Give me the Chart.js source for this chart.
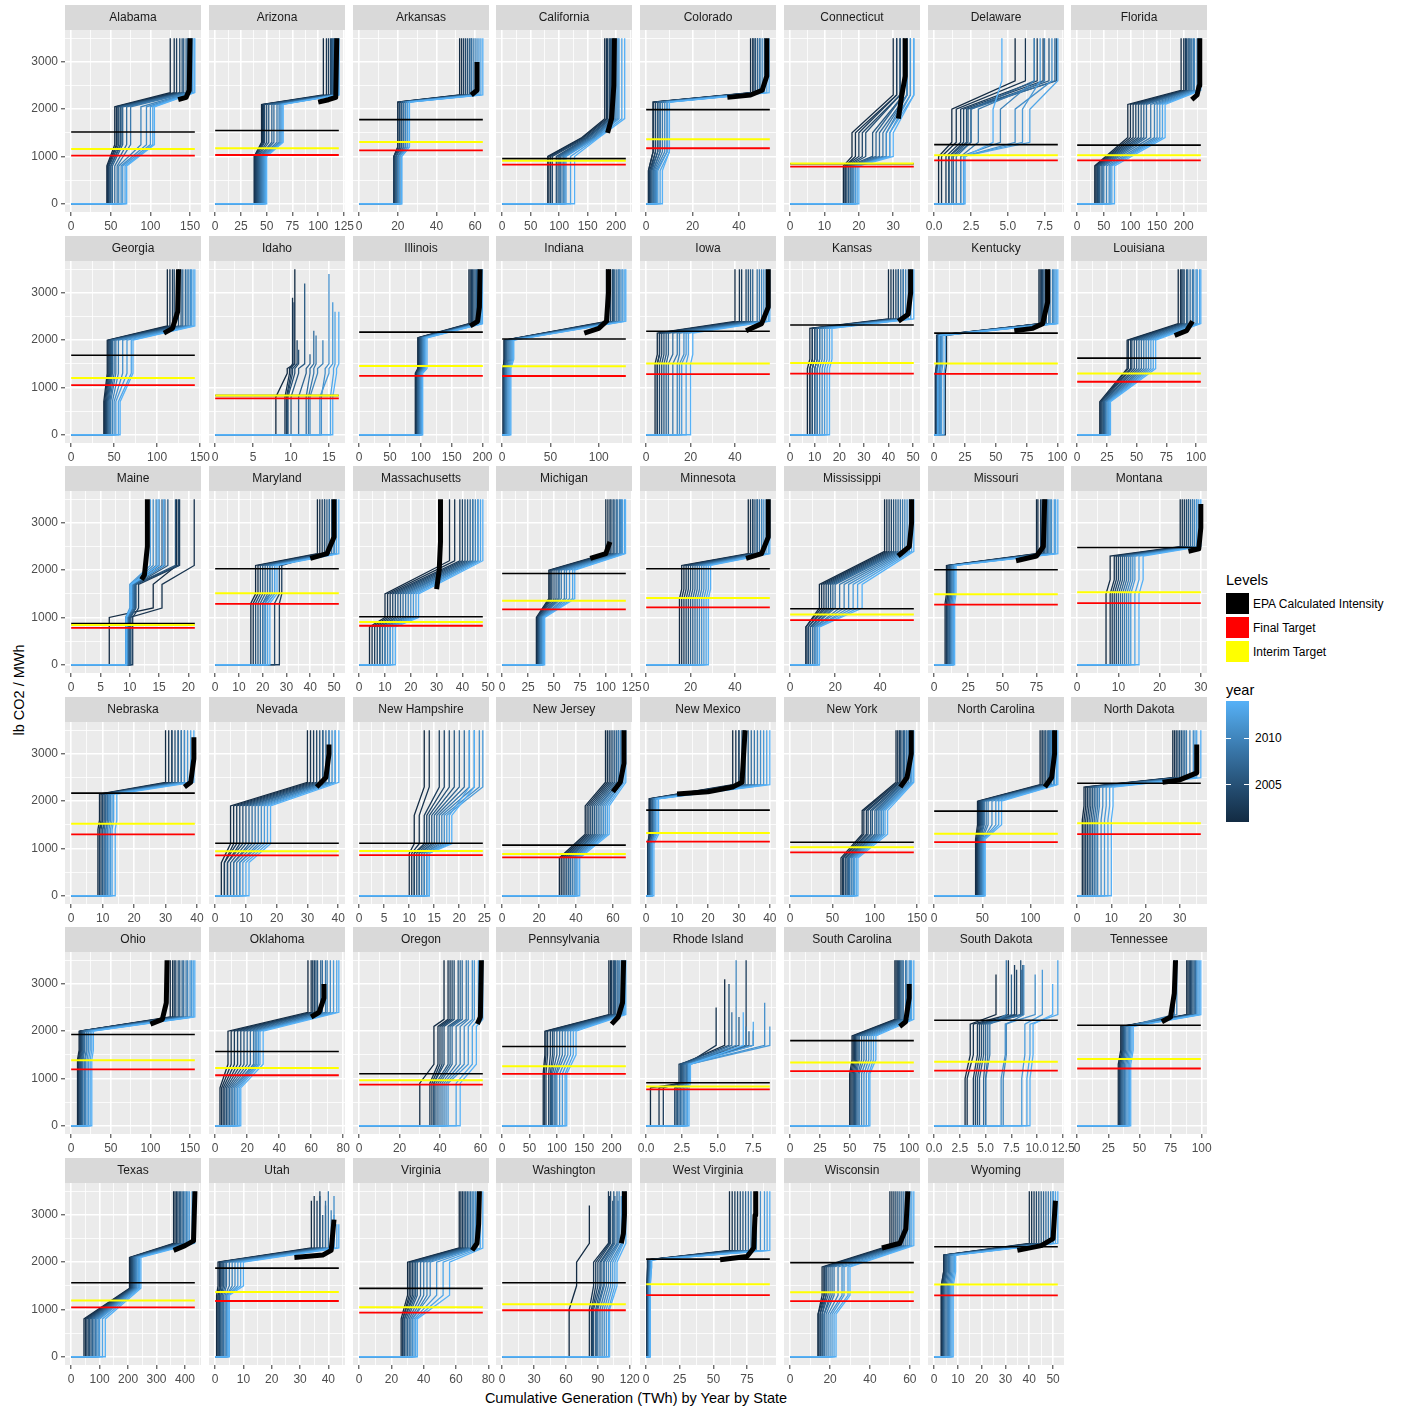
<!DOCTYPE html>
<html>
<head>
<meta charset="utf-8">
<script src="https://cdn.jsdelivr.net/npm/chart.js@4.4.1/dist/chart.umd.min.js"></script>
<style>
  html, body { margin: 0; padding: 0; background: #ffffff; }
  body { width: 1405px; height: 1408px; position: relative; overflow: hidden;
         font-family: "Liberation Sans", Arial, sans-serif; }
  canvas { position: absolute; }
  .txt { position: absolute; white-space: nowrap; color: #000; line-height: 1; }
  .key { position: absolute; width: 23px; height: 21px; }
  .tick { position: absolute; height: 1px; width: 5px; background: #ffffff; }
</style>
</head>
<body>
<div class="txt" id="ytitle" style="left:19px; top:690px; font-size:14.5px; transform:translate(-50%,-50%) rotate(-90deg);">lb CO2 / MWh</div>
<div class="txt" id="xtitle" style="left:636px; top:1398px; font-size:14.5px; transform:translate(-50%,-50%);">Cumulative Generation (TWh) by Year by State</div>

<div class="txt" style="left:1226px; top:580px; font-size:14.5px; transform:translateY(-50%);">Levels</div>
<div class="key" style="left:1226px; top:593px; background:#000000;"></div>
<div class="key" style="left:1226px; top:617px; background:#FF0000;"></div>
<div class="key" style="left:1226px; top:641px; background:#FFFF00;"></div>
<div class="txt" style="left:1253px; top:604px; font-size:12px; transform:translateY(-50%);">EPA Calculated Intensity</div>
<div class="txt" style="left:1253px; top:628px; font-size:12px; transform:translateY(-50%);">Final Target</div>
<div class="txt" style="left:1253px; top:652px; font-size:12px; transform:translateY(-50%);">Interim Target</div>

<div class="txt" style="left:1226px; top:690px; font-size:14.5px; transform:translateY(-50%);">year</div>
<div id="cbar" style="position:absolute; left:1226px; top:701px; width:23px; height:121px;"></div>
<div id="cbarLabels"></div>

<script>
// ---------------------------------------------------------------------------
// Data: power-sector CO2 intensity curves by state.
// Each curve runs from 0 generation at 0 lb/MWh, jumps at the zero-carbon
// share, crosses the gas block, steps up to coal and ends with peakers.
// ---------------------------------------------------------------------------
const STATES = ["Alabama","Arizona","Arkansas","California","Colorado","Connecticut","Delaware","Florida",
  "Georgia","Idaho","Illinois","Indiana","Iowa","Kansas","Kentucky","Louisiana",
  "Maine","Maryland","Massachusetts","Michigan","Minnesota","Mississippi","Missouri","Montana",
  "Nebraska","Nevada","New Hampshire","New Jersey","New Mexico","New York","North Carolina","North Dakota",
  "Ohio","Oklahoma","Oregon","Pennsylvania","Rhode Island","South Carolina","South Dakota","Tennessee",
  "Texas","Utah","Virginia","Washington","West Virginia","Wisconsin","Wyoming"];

const YEARS = [2001,2002,2003,2004,2005,2006,2007,2008,2009,2010,2011,2012,2013,2014];

// Largest cumulative generation (TWh) per state
const X_MAX = [156,120,64,217,53.3,36,8.4,232,
  144,16.3,200.5,128,55.7,50.3,100.3,104,
  21.1,52,47.9,119.3,55.7,55,90.6,30,
  39.3,40.2,24.7,67,40,146,128.4,36.2,
  156,77.3,61.2,226,8.66,103.9,12,99.3,
  434.6,43.7,76.6,116.3,92,62,52];

const X_TICKS = [[0,50,100,150],[0,25,50,75,100,125],[0,20,40,60],[0,50,100,150,200],[0,20,40],[0,10,20,30],[0,2.5,5,7.5],[0,50,100,150,200],
  [0,50,100,150],[0,5,10,15],[0,50,100,150,200],[0,50,100],[0,20,40],[0,10,20,30,40,50],[0,25,50,75,100],[0,25,50,75,100],
  [0,5,10,15,20],[0,10,20,30,40,50],[0,10,20,30,40,50],[0,25,50,75,100,125],[0,20,40],[0,20,40],[0,25,50,75],[0,10,20,30],
  [0,10,20,30,40],[0,10,20,30,40],[0,5,10,15,20,25],[0,20,40,60],[0,10,20,30,40],[0,50,100,150],[0,50,100],[0,10,20,30],
  [0,50,100,150],[0,20,40,60,80],[0,20,40,60],[0,50,100,150,200],[0,2.5,5,7.5],[0,25,50,75,100],[0,2.5,5,7.5,10,12.5],[0,25,50,75,100],
  [0,100,200,300,400],[0,10,20,30,40],[0,20,40,60,80],[0,30,60,90,120],[0,25,50,75],[0,20,40,60],[0,10,20,30,40,50]];

const Y_TICKS = [0,1000,2000,3000];

// Horizontal reference levels (lb CO2 / MWh)
const EPA_INTENSITY = [1518,1550,1779,955,1990,845,1250,1240,
  1680,830,2170,2025,2190,2320,2150,1620,
  870,2030,1015,1930,2030,1185,2010,2480,
  2170,1110,1110,1070,1810,1130,1790,2380,
  1930,1570,1100,1675,910,1800,2230,2125,
  1565,1875,1445,1565,2065,1990,2325];
const FINAL_TARGET = [1018,1031,1130,828,1174,786,916,919,
  1049,771,1245,1242,1283,1293,1286,1121,
  779,1287,824,1169,1213,945,1272,1305,
  1296,855,858,812,1146,918,1136,1305,
  1190,1068,871,1095,771,1156,1167,1211,
  1042,1179,934,983,1305,1176,1299];
const INTERIM_TARGET = [1157,1173,1304,907,1362,852,1023,1026,
  1198,832,1456,1451,1505,1519,1509,1293,
  842,1510,902,1355,1414,1061,1490,1534,
  1522,942,947,885,1325,1025,1311,1534,
  1383,1223,964,1258,832,1338,1352,1411,
  1188,1368,1047,1111,1534,1364,1526];

// Intensity levels per state: [first jump, end of gas block, start of coal, end of coal, top of peakers]
const LEVELS = [
  [800,1250,2050,2350,3500],[1000,1300,2100,2300,3500],[1000,1200,2150,2300,3500],[1000,1400,1400,1800,3500],
  [700,1100,2150,2350,3500],[800,1000,1500,2300,3500],[1000,1300,2000,2600,3500],[800,1400,2100,2400,3500],
  [700,1300,2000,2300,3500],[800,1300,1400,1500,3000],[1300,1400,2050,2350,3500],[1400,1600,2000,2400,3500],
  [1500,1700,2150,2400,3500],[1400,1600,2250,2450,3500],[1300,1500,2100,2350,3500],[700,1400,2000,2350,3500],
  [1000,1200,1700,2100,3500],[1300,1500,2100,2350,3500],[800,1000,1500,2200,3500],[1000,1400,2000,2350,3500],
  [1400,1600,2100,2350,3500],[800,1200,1700,2400,3500],[1300,1500,2100,2350,3500],[1500,1800,2300,2500,3500],
  [1400,1600,2150,2400,3500],[700,1100,1900,2400,3500],[900,1100,1700,2300,3500],[800,1300,1900,2400,3500],
  [1100,1300,2050,2350,3500],[800,1300,1800,2400,3500],[1200,1500,2000,2350,3500],[1600,1900,2300,2500,3500],
  [1400,1600,2000,2300,3500],[800,1300,2000,2400,3500],[900,1300,2100,2250,3500],[1100,1500,2000,2350,3500],
  [800,900,1300,1700,3500],[1100,1400,1900,2250,3500],[1000,1500,2150,2350,3500],[1300,1600,2100,2350,3500],
  [800,1450,2100,2400,3500],[1300,1500,2000,2300,3400],[800,1300,2000,2300,3500],[1000,1500,2000,2400,3500],
  [1500,1900,2050,2250,3500],[900,1300,1900,2350,3500],[1500,1800,2150,2400,3500]];

// Cumulative generation (TWh) at each step, one row per year 2001..2014:
// [zero-carbon share, end of gas block, end of coal block, optional peak level]
const BREAKS = [
  /* Alabama */ [[45,55,125],[46,57,130],[47,58,133],[48,60,137],[50,62,140],[50,63,142],[52,65,145],[55,70,147],[58,75,148],[60,88,150],[63,95,152],[65,100,153],[68,103,155],[70,105,156]],
  /* Arizona */ [[38,45,105],[38,46,108],[39,47,110],[40,48,112],[41,50,113],[42,52,114],[43,55,115],[44,57,116],[45,60,117],[46,62,118],[47,63,118],[48,64,119],[49,65,120],[50,66,120]],
  /* Arkansas */ [[18,20,52],[18,20,53],[18,21,54],[19,21,55],[19,22,56],[19,22,57],[20,23,58],[20,23,58],[20,24,59],[21,24,60],[21,25,61],[21,25,62],[22,26,63],[22,26,64]],
  /* California */ [[80,140,180],[82,142,183],[85,145,185],[88,148,188],[95,150,190],[98,152,192],[100,155,195],[102,158,196],[105,160,198],[108,162,200],[110,165,203],[112,166,205],[120,168,210],[127,170,215]],
  /* Colorado */ [[1,3,45],[1,3,46],[1.5,4,46],[2,4,47],[2,5,47],[2.5,5,48],[3,6,48],[3,6,49],[3.5,7,49],[4,8,50],[4.5,9,51],[5,9,51],[6,10,52],[7,10,53]],
  /* Connecticut */ [[15.5,18,30],[16,19,31],[16,20,31],[16.5,21,32],[17,22,32],[17,24,33],[17.5,25,33],[18,26,34],[18,27,34],[18.5,28,34],[19,28,35],[19,29,35],[19.5,29,36],[20,30,36]],
  /* Delaware */ [[0.3,1.2,5.5],[0.5,1.5,6.2],[0.8,1.8,7.0],[1.0,2.0,7.4],[1.0,2.2,8.3],[1.2,2.3,7.8],[1.3,2.5,6.8],[1.5,2.5,8.2],[1.8,3.0,7.5],[1.8,4.5,6.8],[2.0,5.5,8.0],[2.0,6.0,7.2],[2.0,6.5,8.4],[2.1,4.0,4.6]],
  /* Florida */ [[33,95,195],[35,100,200],[37,105,203],[38,110,205],[40,115,208],[42,120,210],[45,125,212],[48,130,215],[50,138,218],[55,145,220],[60,150,225],[62,155,228],[65,160,230],[70,165,232]],
  /* Georgia */ [[38,42,112],[39,43,115],[40,44,118],[41,45,120],[42,46,125],[43,47,128],[44,48,130],[45,50,133],[46,52,135],[48,55,137],[50,60,139],[52,65,140],[55,70,142],[57,72,144]],
  /* Idaho */ [[8.0,9.5,10.5,3500],[9.2,9.8,10.2,2900],[9.4,10.0,10.4,2800],[9.5,10.2,10.8,2000],[9.6,10.5,11.0,1800],[10.0,11.0,11.8,3200],[11.0,12.0,12.5,1700],[12.0,12.5,13.0,2200],[12.3,13.0,13.3,2100],[12.5,13.5,14.2,2000],[14.0,14.5,15.0,3400],[13.8,15.0,15.5,2800],[15.2,15.6,15.8,2600],[15.5,16.0,16.3,2600]],
  /* Illinois */ [[91,95,178],[92,96,180],[93,97,182],[94,98,184],[95,99,186],[95,100,188],[96,101,190],[97,102,192],[98,103,193],[99,104,194],[100,105,196],[101,106,197],[102,108,199],[103,110,200]],
  /* Indiana */ [[1,2,108],[1,2,110],[2,3,112],[2,3,114],[2,4,115],[3,4,116],[3,5,118],[4,6,120],[4,7,121],[5,8,122],[6,9,124],[7,10,125],[8,11,127],[9,12,128]],
  /* Iowa */ [[4,5,40],[5,6,42],[5,6,43],[6,7,45],[7,8,46],[8,9,47],[9,10,48],[10,12,50],[12,14,51],[14,15,52],[15,17,53],[16,18,54],[18,19,55],[20,21,55.7]],
  /* Kansas */ [[7,8,40],[8,9,41],[8,9,42],[9,10,43],[9,10,44],[10,11,44],[10,11,45],[11,12,46],[11,12,46],[12,13,47],[13,14,48],[14,15,49],[15,16,49],[16,17,50.3]],
  /* Kentucky */ [[9,10,85],[1,2,86],[1,2,87],[2,3,88],[2,3,89],[2,3,90],[3,4,91],[3,4,93],[4,5,94],[4,5,96],[5,6,97],[6,7,98],[8,9,99],[3,4,100.3]],
  /* Louisiana */ [[19,42,85],[20,43,87],[20,45,88],[21,46,89],[22,48,90],[22,50,92],[23,52,93],[24,54,95],[24,56,97],[25,58,98],[26,60,100],[26,62,101],[27,64,103],[28,66,104]],
  /* Maine */ [[6.5,14.0,18.0],[10.0,15.5,21.0],[10.5,11.5,18.5],[10.0,11.0,18.3],[10.2,11.0,17.8],[10.0,11.0,16.5],[9.8,10.8,15.5],[9.6,10.6,16.0],[9.5,10.5,15.0],[9.4,10.4,14.5],[9.3,10.2,14.0],[9.3,10.0,13.5],[9.5,10.3,15.8],[9.4,10.2,14.8]],
  /* Maryland */ [[15,17,43],[16,18,44],[27,28,45],[25,27,46],[17,19,46],[18,20,47],[19,21,48],[20,22,48],[20,23,49],[21,23,50],[21,24,50],[22,25,51],[22,25,51],[23,26,52]],
  /* Massachusetts */ [[4,10,35],[5,11,37],[6,12,39],[7,13,40],[8,14,41],[8,15,42],[9,16,43],[10,17,44],[10,18,44],[11,19,45],[12,20,46],[12,21,46],[13,22,47],[14,23,47.9]],
  /* Michigan */ [[33,45,100],[34,46,102],[34,47,104],[35,48,105],[35,50,107],[36,52,108],[36,54,110],[37,55,111],[37,57,113],[38,60,114],[39,62,115],[39,65,116],[40,68,118],[41,70,119]],
  /* Minnesota */ [[15,16,46],[16,17,47],[17,18,48],[18,19,48],[19,20,49],[20,21,50],[21,22,50],[22,23,51],[23,24,52],[24,25,52],[25,26,53],[26,27,54],[27,28,55],[28,29,55.7]],
  /* Mississippi */ [[7,13,42],[7,14,43],[8,15,44],[8,16,45],[9,17,46],[9,18,47],[10,19,48],[10,20,49],[11,22,50],[11,24,51],[12,26,52],[12,28,53],[13,30,54],[13,32,55]],
  /* Missouri */ [[8,9,75],[9,10,76],[9,10,78],[10,11,79],[10,11,80],[11,12,81],[11,12,82],[12,13,83],[12,13,84],[13,14,85],[13,14,86],[14,15,88],[14,15,89],[15,16,90.6]],
  /* Montana */ [[7,8,25],[8,9,25.5],[8.5,9.5,26],[9,10,26.5],[9.5,10.5,27],[10,11,27],[10.5,11.5,27.5],[11,12,28],[11.5,12.5,28],[12,13,28.5],[12.5,13.5,29],[13,14,29],[14,15,29.5],[15,16,30]],
  /* Nebraska */ [[8.5,9,30],[9,9.5,31],[9,10,32],[9.5,10,32],[10,10.5,33],[10,11,34],[10.5,11,34],[11,11.5,35],[11,12,35],[11.5,12,36],[12,12.5,36],[12.5,13,37],[13,13.5,38],[14,14.5,39]],
  /* Nevada */ [[2,5,30],[3,6,31],[3,7,32],[4,8,33],[4,9,34],[5,10,35],[6,11,35],[6,12,36],[7,13,37],[8,14,37],[8,15,38],[9,16,39],[10,17,39],[11,18,40.2]],
  /* New Hampshire */ [[10,11,13],[10.5,12,14],[11,13,16],[11,13.5,17],[11.5,14,18],[12,14.5,19],[12,15,20],[12.5,15.5,21],[13,16,22],[13,16.5,23],[13.5,17,24],[13.5,17.5,24.7],[14,18,22],[14,18.5,23]],
  /* New Jersey */ [[31,45,56],[32,46,57],[33,47,58],[34,48,59],[35,49,60],[36,50,61],[36,51,62],[37,52,63],[38,53,63],[39,54,64],[40,55,65],[40,56,65],[41,57,66],[42,58,67]],
  /* New Mexico */ [[0.5,1,28],[0.5,1,29],[0.5,1.5,30],[1,1.5,30],[1,2,31],[1,2,32],[1,2,33],[1.5,2.5,34],[1.5,2.5,35],[1.5,3,36],[2,3,37],[2,3,38],[2,3.5,39],[2.5,4,40]],
  /* New York */ [[60,85,125],[62,87,127],[63,90,129],[65,92,130],[66,95,132],[68,97,134],[69,100,135],[70,102,137],[72,104,138],[73,106,140],[75,108,142],[76,110,143],[78,112,145],[80,115,146]],
  /* North Carolina */ [[43,45,110],[44,46,112],[45,47,113],[46,48,115],[46,49,116],[47,50,118],[48,51,119],[48,52,120],[49,54,121],[50,56,122],[51,60,124],[51,64,125],[52,67,127],[53,70,128.4]],
  /* North Dakota */ [[1.5,2,28],[2,2.5,28.5],[2.5,3,29],[3,3.5,29.5],[3.5,4,30],[4,4.5,30.5],[4.5,5,31],[5,5.5,31.5],[5.5,6,32],[6,6.5,33],[7,7.5,34],[8,8.5,34.5],[9,9.5,35],[10,10.5,36.2]],
  /* Ohio */ [[8,10,125],[9,11,128],[10,12,130],[11,13,132],[12,14,135],[13,15,137],[14,16,140],[15,17,142],[17,19,145],[18,20,147],[20,22,150],[22,24,152],[24,26,154],[26,28,156]],
  /* Oklahoma */ [[3,8,58],[4,10,60],[5,12,61],[6,14,62],[7,16,63],[8,18,64],[9,20,66],[10,22,67],[11,24,69],[12,25,70],[13,26,72],[14,27,74],[15,28,76],[16,30,77.3]],
  /* Oregon */ [[30,37,42],[35,39,44],[36,40,45],[37,41,46],[37,42,47],[38,44,49],[39,45,50],[40,46,51],[41,48,53],[42,50,54],[43,52,56],[44,54,57],[48,56,59],[50,58,61.2]],
  /* Pennsylvania */ [[75,78,195],[77,80,198],[80,83,200],[85,88,203],[88,92,205],[90,95,207],[92,100,210],[95,105,212],[98,110,215],[100,115,218],[105,120,220],[110,125,222],[115,130,224],[118,135,226]],
  /* Rhode Island */ [[0.3,2.5,5.5,3100],[0.9,2.8,4.9,2500],[1.2,2.3,7.0,3500],[2.0,2.5,7.5,2000],[2.1,2.4,5.8,3000],[2.2,2.5,6.5,2300],[2.3,2.6,7.2,2000],[2.4,2.7,6.0,2400],[2.5,2.8,7.0,2100],[2.6,2.9,6.3,3500],[2.7,3.0,8.3,2600],[2.8,3.0,8.66,2100],[2.9,3.0,7.5,2200],[3.0,3.1,6.8,2400]],
  /* South Carolina */ [[50,52,88],[51,53,89],[52,54,90],[53,55,91],[54,56,92],[55,57,93],[56,58,94],[57,60,95],[58,62,97],[60,64,98],[62,66,100],[64,68,101],[66,70,102],[67,72,103.9]],
  /* South Dakota */ [[3.0,3.5,6.0,3200],[3.2,3.8,7.2,3500],[3.8,4.2,7.8,3400],[4.0,4.4,8.0,3300],[4.2,4.6,8.4,3500],[4.4,4.8,8.6,3400],[4.8,5.0,7.5,3200],[5.0,5.2,8.5,3300],[5.0,5.4,7.0,3500],[6.7,7.0,8.7,3400],[6.5,6.9,9.8,3200],[8.5,8.8,10.5,3300],[9.0,9.3,12.0,3500],[9.3,9.6,11.5,3000]],
  /* Tennessee */ [[33,35,88],[34,36,89],[34,36,90],[35,37,91],[35,37,92],[36,38,93],[36,38,94],[37,39,95],[38,40,78],[39,41,80],[40,42,96],[41,43,97],[42,44,98],[43,45,99.3]],
  /* Texas */ [[45,205,360],[50,208,365],[55,210,370],[60,212,375],[65,215,380],[70,218,385],[75,220,390],[80,223,395],[85,226,400],[90,229,405],[95,232,410],[100,236,415],[110,240,425],[120,245,434]],
  /* Utah */ [[0.5,1,34,3300],[1,1.5,35,3400],[1,2,36,3300],[1.5,2,37,3500],[2,2.5,37,3400],[2,3,38,3000],[2.5,3.5,39,3200],[3,4,39,3300],[3.5,5,40,3500],[4,6,41,3100],[4,7,42,3400],[4.5,8,42,3000],[4.5,9,43,2800],[5,10,43.7,2800]],
  /* Virginia */ [[26,30,62],[27,31,63],[27,32,64],[28,33,65],[28,34,66],[29,35,67],[30,36,68],[31,38,69],[32,40,70],[33,42,71],[33,44,72],[34,48,73],[35,52,75],[36,56,76.6]],
  /* Washington */ [[63,70,82,3200],[82,86,100,3500],[84,88,101,3400],[85,90,102,3500],[86,92,104,3300],[88,93,105,3500],[89,95,106,3400],[90,96,108,3500],[92,98,109,3300],[94,100,110,3500],[96,102,112,3400],[98,104,113,3500],[100,106,114,3300],[101,108,116.3,3500]],
  /* West Virginia */ [[0.5,1,62],[0.5,1,64],[1,1.5,66],[1,1.5,68],[1,2,70],[1.5,2,72],[1.5,2.5,74],[2,2.5,76],[2,3,78],[2,3,82],[2.5,3.5,85],[2.5,3.5,88],[3,4,90],[3,4,92]],
  /* Wisconsin */ [[14,16,50],[14,17,51],[15,17,52],[15,18,53],[16,18,54],[16,19,55],[17,20,56],[17,21,57],[18,22,58],[19,24,59],[20,26,60],[21,27,60],[22,29,61],[23,30,62]],
  /* Wyoming */ [[3,4,40],[3,4,41],[3.5,4.5,42],[3.5,4.5,43],[4,5,44],[4,5,45],[4.5,5.5,46],[5,6,47],[5.5,6.5,48],[6,7,49],[6.5,7.5,50],[7,8,50],[7.5,8.5,51],[8,9,52]]
];

// Heavy black overlay: high-intensity tail of the calculated-intensity year (x, y pairs)
const HEAVY = [
  [135,2200,145,2250,149,2400,150,3500],[100,2150,110,2200,117,2250,118,3500],[58,2300,61,2400,61,3000],[185,1500,192,1800,196,2500,197,3500],
  [35,2250,45,2300,50,2400,52,2700,52,3500],[31.5,1800,32.5,2300,33.5,2700,33.5,3500],[],[215,2200,225,2300,229,2500,230,3500],
  [108,2150,118,2250,124,2600,125,3500],[],[180,2300,192,2400,195,2700,196,3500],[85,2150,100,2250,108,2400,110,3000,110,3500],
  [45,2200,52,2350,55,2700,55,3500],[44,2400,48,2550,49,3000,49,3500],[65,2200,80,2250,88,2350,92,2800,92,3500],[82,2100,92,2200,97,2400],
  [12,1800,12.5,1900,13,2500,13,3500],[40,2250,47,2350,50,2700,50,3500],[30,1600,31,2000,31.5,2600,31.5,3500],[85,2250,100,2350,104,2600],
  [45,2250,52,2350,55,2700,55,3500],[48,2300,53,2500,54,3000,54,3500],[60,2200,75,2300,80,2500,81,3500],[27,2400,29.5,2450,30,2900,30,3400],
  [36,2300,38,2400,39,2900,39,3350],[33,2300,36,2500,37,3000,37,3200],[],[60,2200,64,2400,66,2800,66,3500],
  [10,2150,20,2200,28,2300,31,2400,32,3500],[130,2300,138,2500,143,3000,143,3500],[115,2300,122,2500,125,3000,125,3500],[25,2400,30,2450,35,2600,35,3200],
  [100,2150,115,2250,120,2600,121,3500],[60,2300,65,2400,68,2700,68,3000],[58.5,2150,60,2300,60.5,3500],[200,2150,212,2300,220,2600,222,3500],
  [],[92,2100,97,2200,100,2700,100,3000],[],[68,2200,75,2300,78,2800,79,3500],
  [360,2250,400,2350,430,2450,435,3500],[28,2100,38,2150,41,2250,42,2900],[70,2250,73,2400,74,2800,74.5,3500],[112,2400,114,2600,115,3000,115,3500],
  [55,2050,75,2120,80,2300,81,3000,81.5,3500],[46,2300,55,2400,58,2700,59,3500],[35,2250,45,2350,50,2500,51,3300]
];

// ---------------------------------------------------------------------------
// Year colour scale (CIELAB interpolation between the two gradient ends)
// ---------------------------------------------------------------------------
const LOW_COLOR = '#132B43', HIGH_COLOR = '#56B1F7';
function toLin(c) { c /= 255; return c <= 0.04045 ? c / 12.92 : Math.pow((c + 0.055) / 1.055, 2.4); }
function fromLin(c) { const v = c <= 0.0031308 ? 12.92 * c : 1.055 * Math.pow(c, 1 / 2.4) - 0.055; return Math.round(Math.max(0, Math.min(1, v)) * 255); }
function hexToLab(h) {
  const r = toLin(parseInt(h.slice(1, 3), 16)), g = toLin(parseInt(h.slice(3, 5), 16)), b = toLin(parseInt(h.slice(5, 7), 16));
  const X = (0.4124 * r + 0.3576 * g + 0.1805 * b) / 0.95047;
  const Y = 0.2126 * r + 0.7152 * g + 0.0722 * b;
  const Z = (0.0193 * r + 0.1192 * g + 0.9505 * b) / 1.08883;
  const f = t => t > 0.008856 ? Math.cbrt(t) : 7.787 * t + 16 / 116;
  const fx = f(X), fy = f(Y), fz = f(Z);
  return [116 * fy - 16, 500 * (fx - fy), 200 * (fy - fz)];
}
function labToRgb(L, a, b) {
  const fy = (L + 16) / 116, fx = fy + a / 500, fz = fy - b / 200;
  const inv = t => (t * t * t > 0.008856) ? t * t * t : (t - 16 / 116) / 7.787;
  const X = inv(fx) * 0.95047, Y = inv(fy), Z = inv(fz) * 1.08883;
  const r = 3.2406 * X - 1.5372 * Y - 0.4986 * Z;
  const g = -0.9689 * X + 1.8758 * Y + 0.0415 * Z;
  const bb = 0.0557 * X - 0.2040 * Y + 1.0570 * Z;
  return 'rgb(' + fromLin(r) + ',' + fromLin(g) + ',' + fromLin(bb) + ')';
}
const LAB_LOW = hexToLab(LOW_COLOR), LAB_HIGH = hexToLab(HIGH_COLOR);
function rampColor(t) {
  return labToRgb(LAB_LOW[0] + (LAB_HIGH[0] - LAB_LOW[0]) * t,
                  LAB_LOW[1] + (LAB_HIGH[1] - LAB_LOW[1]) * t,
                  LAB_LOW[2] + (LAB_HIGH[2] - LAB_LOW[2]) * t);
}
const Y0 = YEARS[0], Y1 = YEARS[YEARS.length - 1];
function yearColor(yr) { return rampColor((yr - Y0) / (Y1 - Y0)); }

// ---------------------------------------------------------------------------
// Colour bar legend
// ---------------------------------------------------------------------------
(function buildColorbar() {
  const stops = [];
  for (let i = 0; i <= 12; i++) { const t = i / 12; stops.push(rampColor(t) + ' ' + (t * 100).toFixed(1) + '%'); }
  document.getElementById('cbar').style.background = 'linear-gradient(to top, ' + stops.join(', ') + ')';
  const holder = document.getElementById('cbarLabels');
  [2005, 2010].forEach(yr => {
    const y = 822 - (yr - Y0) / (Y1 - Y0) * 121;
    holder.insertAdjacentHTML('beforeend',
      '<div class="tick" style="left:1226px;top:' + (y - 0.5) + 'px"></div>' +
      '<div class="tick" style="left:1244px;top:' + (y - 0.5) + 'px"></div>' +
      '<div class="txt" style="left:1255px;top:' + y + 'px;font-size:12px;transform:translateY(-50%)">' + yr + '</div>');
  });
})();

// ---------------------------------------------------------------------------
// Panels
// ---------------------------------------------------------------------------
const FONT = "'Liberation Sans', Arial, sans-serif";
Chart.defaults.font.family = FONT;

const COLS = 8;
const PANEL_W = 136, STRIP_H = 25, PLOT_H = 182, AXIS_H = 23, SIDE = 12, YAXIS_W = 65;
const colLeft = c => Math.round(65 + c * 143.75);
const rowTop = r => Math.round(5 + r * 230.5);

const panelFrame = {
  id: 'panelFrame',
  beforeDraw(chart) {
    const { ctx, chartArea: a } = chart;
    const tb = chart.titleBlock;
    ctx.save();
    ctx.fillStyle = '#EBEBEB';
    ctx.fillRect(a.left, a.top, a.right - a.left, a.bottom - a.top);
    if (tb) {
      ctx.fillStyle = '#D9D9D9';
      ctx.fillRect(a.left, tb.top, a.right - a.left, tb.bottom - tb.top);
    }
    ctx.restore();
  }
};

function withMinor(major, lo, hi) {
  const out = major.filter(v => v >= lo && v <= hi).map(v => ({ value: v, minor: false }));
  const step = major[1] - major[0];
  const cands = [];
  for (let i = 0; i < major.length - 1; i++) cands.push((major[i] + major[i + 1]) / 2);
  cands.push(major[0] - step / 2, major[major.length - 1] + step / 2);
  cands.forEach(v => { if (v >= lo && v <= hi) out.push({ value: v, minor: true }); });
  out.sort((p, q) => p.value - q.value);
  return out;
}

function curve(levels, br) {
  const [ya, yb, yc, yd, ye0] = levels;
  const xa = br[0], xb = br[1], xd = br[2];
  const ye = br.length > 3 ? br[3] : ye0;
  return [{ x: 0, y: 0 }, { x: xa, y: 0 }, { x: xa, y: ya }, { x: xb, y: yb },
          { x: xb, y: yc }, { x: xd, y: yd }, { x: xd, y: ye }];
}

function pairs(flat) {
  const pts = [];
  for (let i = 0; i + 1 < flat.length; i += 2) pts.push({ x: flat[i], y: flat[i + 1] });
  return pts;
}

const gridWidth = c => (c.tick && c.tick.minor) ? 0.8 : 1.6;
const tickColor = c => (c.tick && c.tick.minor) ? 'rgba(0,0,0,0)' : '#333333';

STATES.forEach((name, i) => {
  const r = Math.floor(i / COLS), c = i % COLS;
  const left = c === 0 ? 0 : colLeft(c) - SIDE;
  const padLeft = c === 0 ? 0 : SIDE;
  const yW = c === 0 ? YAXIS_W : 0;
  const width = (c === 0 ? YAXIS_W : SIDE) + PANEL_W + SIDE;
  const height = STRIP_H + PLOT_H + AXIS_H;

  const cv = document.createElement('canvas');
  cv.width = width; cv.height = height;
  cv.style.left = left + 'px'; cv.style.top = rowTop(r) + 'px';
  cv.style.width = width + 'px'; cv.style.height = height + 'px';
  document.body.appendChild(cv);

  const xmax = X_MAX[i];
  const xmin = -0.05 * xmax, xhi = 1.05 * xmax;
  const ticks = X_TICKS[i];
  const decimals = ticks.some(v => Math.round(v) !== v) ? 1 : 0;

  const line = (v, color, w) => ({
    data: [{ x: 0, y: v }, { x: xmax, y: v }],
    borderColor: color, borderWidth: w, pointRadius: 0, fill: false, tension: 0
  });

  // first dataset is drawn on top
  const datasets = [
    line(INTERIM_TARGET[i], '#FFFF00', 2),
    line(FINAL_TARGET[i], '#FF0000', 1.8),
    line(EPA_INTENSITY[i], '#000000', 1.6)
  ];
  if (HEAVY[i].length) {
    datasets.push({ data: pairs(HEAVY[i]), borderColor: '#000000', borderWidth: 5,
      borderCapStyle: 'butt', borderJoinStyle: 'round', pointRadius: 0, fill: false, tension: 0 });
  }
  for (let k = YEARS.length - 1; k >= 0; k--) {
    datasets.push({ data: curve(LEVELS[i], BREAKS[i][k]), borderColor: yearColor(YEARS[k]),
      borderWidth: 1.3, pointRadius: 0, fill: false, tension: 0 });
  }

  new Chart(cv, {
    type: 'line',
    data: { datasets },
    options: {
      responsive: false, animation: false, devicePixelRatio: 1, events: [],
      layout: { padding: { left: padLeft, right: SIDE, top: 0, bottom: 0 } },
      plugins: {
        legend: { display: false }, tooltip: { enabled: false },
        title: { display: true, text: name, fullSize: false, color: '#1A1A1A',
          font: { family: FONT, size: 12, weight: 'normal', lineHeight: 1.2 },
          padding: { top: 5.3, bottom: 5.3 } }
      },
      scales: {
        x: {
          type: 'linear', bounds: 'data', min: xmin, max: xhi,
          afterBuildTicks: s => { s.ticks = withMinor(ticks, xmin, xhi); },
          afterFit: s => { s.height = AXIS_H; s.paddingLeft = 0; s.paddingRight = 0; },
          border: { display: false },
          grid: { color: '#FFFFFF', lineWidth: gridWidth, drawTicks: true, tickLength: 4,
                  tickWidth: 1, tickColor: tickColor },
          ticks: { autoSkip: false, maxRotation: 0, minRotation: 0, padding: 3, color: '#4D4D4D',
            font: { family: FONT, size: 12 },
            callback: (v, idx, arr) => (arr[idx] && arr[idx].minor) ? '' : Number(v).toFixed(decimals) }
        },
        y: {
          type: 'linear', bounds: 'data', min: -175, max: 3675,
          afterBuildTicks: s => { s.ticks = withMinor(Y_TICKS, -175, 3675); },
          afterFit: s => { s.width = yW; s.paddingTop = 0; s.paddingBottom = 0; },
          border: { display: false },
          grid: { color: '#FFFFFF', lineWidth: gridWidth, drawTicks: c === 0, tickLength: 4,
                  tickWidth: 1, tickColor: tickColor },
          ticks: { display: c === 0, autoSkip: false, padding: 3, color: '#4D4D4D',
            font: { family: FONT, size: 12 },
            callback: (v, idx, arr) => (arr[idx] && arr[idx].minor) ? '' : String(v) }
        }
      }
    },
    plugins: [panelFrame]
  });
});
</script>
</body>
</html>
